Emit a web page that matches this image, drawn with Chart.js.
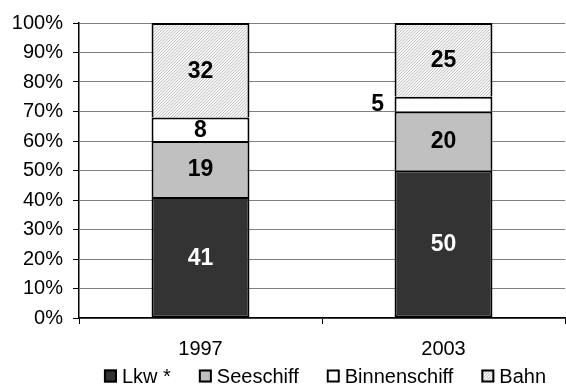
<!DOCTYPE html>
<html>
<head>
<meta charset="utf-8">
<script src="https://cdn.jsdelivr.net/npm/chart.js@4/dist/chart.umd.min.js"></script>
<style>
  html, body { margin: 0; padding: 0; background: #fff; }
  #wrap { width: 566px; height: 385px; position: relative; }
</style>
</head>
<body>
<div id="wrap"><canvas id="c"></canvas></div>
<script>
// Modal split of freight transport (share in %)
const years = ['1997', '2003'];
const lkw = [41, 50];
const seeschiff = [19, 20];
const binnenschiff = [8, 5];
const bahn = [32, 25];
const seriesNames = ['Lkw *', 'Seeschiff', 'Binnenschiff', 'Bahn'];
const yTicks = [0, 10, 20, 30, 40, 50, 60, 70, 80, 90, 100];

const FONT = "'Liberation Sans', Arial, sans-serif";

// fine light diagonal hatch used for the rail segment
function makeHatch() {
  const t = document.createElement('canvas');
  t.width = 3; t.height = 3;
  const g = t.getContext('2d');
  g.fillStyle = '#f6f6f6';
  g.fillRect(0, 0, 3, 3);
  g.fillStyle = '#c4c4c4';
  g.fillRect(2, 0, 1, 1);
  g.fillRect(1, 1, 1, 1);
  g.fillRect(0, 2, 1, 1);
  return g.createPattern(t, 'repeat');
}
const hatch = makeHatch();

const fills = ['#333333', '#c0c0c0', '#ffffff', hatch];
const labelColors = ['#ffffff', '#000000', '#000000', '#000000'];
const seriesData = [lkw, seeschiff, binnenschiff, bahn];

const segBorder = { top: 2, left: 2, right: 2, bottom: 0 };

const datasets = seriesData.map((d, i) => ({
  label: seriesNames[i],
  data: d,
  backgroundColor: fills[i],
  borderColor: '#000000',
  borderWidth: i === 0 ? { top: 2, left: 2, right: 2, bottom: 2 } : segBorder,
  borderSkipped: false,
  categoryPercentage: 1,
  barPercentage: 0.403
}));

// value labels inside each segment (outside to the left when too thin)
const valueLabels = {
  id: 'valueLabels',
  afterDatasetsDraw(chart) {
    const ctx = chart.ctx;
    ctx.save();
    ctx.font = 'bold 23px ' + FONT;
    ctx.textAlign = 'center';
    ctx.textBaseline = 'middle';
    chart.data.datasets.forEach((ds, di) => {
      const meta = chart.getDatasetMeta(di);
      meta.data.forEach((bar, i) => {
        const v = ds.data[i];
        const top = Math.min(bar.y, bar.base);
        const bottom = Math.max(bar.y, bar.base);
        const cy = (top + bottom) / 2 + 1;
        if (bottom - top < 20) {
          ctx.fillStyle = '#000000';
          ctx.fillText(String(v), bar.x - bar.width / 2 - 17, cy);
        } else {
          ctx.fillStyle = labelColors[di];
          ctx.fillText(String(v), bar.x, cy);
        }
      });
    });
    ctx.restore();
  }
};

// legend row under the axis labels
const legendRow = {
  id: 'legendRow',
  afterDraw(chart) {
    const ctx = chart.ctx;
    const area = chart.chartArea;
    ctx.save();
    ctx.font = '20px ' + FONT;
    const box = 13, gap = 5, spacing = 28;
    const widths = seriesNames.map(n => ctx.measureText(n).width);
    const total = widths.reduce((a, w) => a + box + gap + w, 0) + spacing * (seriesNames.length - 1);
    let x = (area.left + area.right) / 2 + 3 - total / 2;
    const cy = 376;
    seriesNames.forEach((n, i) => {
      ctx.fillStyle = fills[i];
      ctx.fillRect(x, cy - box / 2, box, box);
      ctx.strokeStyle = '#000000';
      ctx.lineWidth = 2;
      ctx.strokeRect(x + 1, cy - box / 2 + 1, box - 2, box - 2);
      ctx.fillStyle = '#000000';
      ctx.textAlign = 'left';
      ctx.textBaseline = 'middle';
      ctx.fillText(n, x + box + gap, cy + 1);
      x += box + gap + widths[i] + spacing;
    });
    ctx.restore();
  }
};

Chart.defaults.font.family = FONT;
Chart.defaults.color = '#000000';

new Chart(document.getElementById('c'), {
  type: 'bar',
  data: { labels: years, datasets },
  options: {
    responsive: true,
    maintainAspectRatio: false,
    devicePixelRatio: 1,
    animation: false,
    layout: { padding: { top: 23, right: 1, left: 0, bottom: 0 } },
    plugins: {
      legend: { display: false },
      tooltip: { enabled: false }
    },
    scales: {
      x: {
        stacked: true,
        offset: true,
        grid: {
          display: true,
          offset: true,
          drawOnChartArea: false,
          drawTicks: true,
          tickLength: 6,
          tickColor: '#000000',
          tickWidth: 1
        },
        border: { display: true, color: '#000000', width: 1.5 },
        ticks: { font: { size: 20 }, color: '#000000', padding: 13 },
        afterFit(scale) { scale.height = 67; }
      },
      y: {
        stacked: true,
        min: 0,
        max: 100,
        afterBuildTicks(scale) { scale.ticks = yTicks.map(v => ({ value: v })); },
        grid: {
          color: '#808080',
          lineWidth: 1,
          drawTicks: true,
          tickLength: 6,
          tickColor: '#000000'
        },
        border: { display: true, color: '#000000', width: 1.5 },
        ticks: {
          font: { size: 20 },
          color: '#000000',
          padding: 10,
          callback: v => v + '%'
        },
        afterFit(scale) { scale.width = 79; }
      }
    }
  },
  plugins: [valueLabels, legendRow]
});
</script>
</body>
</html>
